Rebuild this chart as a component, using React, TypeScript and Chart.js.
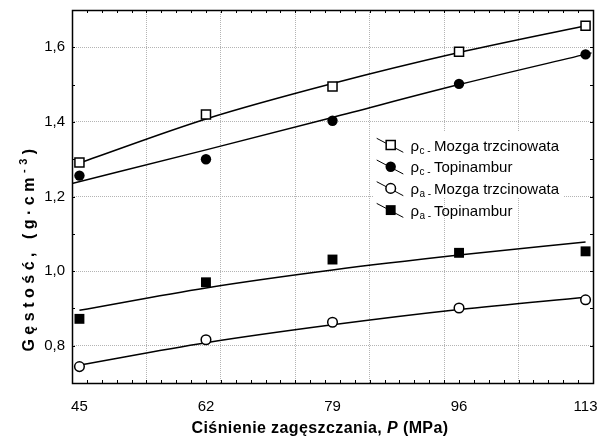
import { useEffect, useRef } from 'react';
import { Chart, registerables } from 'chart.js';

Chart.register(...registerables);

// ---- data ----
const pressure = [45, 62, 79, 96, 113];
const rhoCMozga = [1.291, 1.42, 1.495, 1.588, 1.658];
const rhoCTopinambur = [1.256, 1.3, 1.403, 1.502, 1.581];
const rhoAMozga = [0.744, 0.816, 0.863, 0.901, 0.923];
const rhoATopinambur = [0.872, 0.97, 1.031, 1.049, 1.053];

// fitted curves
const fitCMozgaX = [45, 62, 79, 96, 113];
const fitCMozgaY = [1.29, 1.408, 1.503, 1.586, 1.658];
const fitCTopinamburX = [44, 62, 79, 96, 113.8];
const fitCTopinamburY = [1.235, 1.325, 1.412, 1.5, 1.585];
const fitAMozgaX = [45, 62, 79, 96, 113];
const fitAMozgaY = [0.748, 0.808, 0.856, 0.897, 0.93];
const fitATopinamburX = [45, 62, 79, 96, 113];
const fitATopinamburY = [0.895, 0.955, 1.003, 1.043, 1.078];

// axes
const xMin = 44;
const xMax = 114;
const yMin = 0.7;
const yMax = 1.7;
const xTickLabels = [45, 62, 79, 96, 113];
const xGridValues = [54, 64, 74, 84, 94, 104];
const yTickValues = [0.8, 1.0, 1.2, 1.4, 1.6];
const xMinorTicks = [46, 48, 50, 52, 54, 56, 58, 60, 62, 64, 66, 68, 70, 72, 74, 76, 78, 80, 82, 84, 86, 88, 90, 92, 94, 96, 98, 100, 102, 104, 106, 108, 110, 112];
const yMinorTicks = [0.8, 0.9, 1.0, 1.1, 1.2, 1.3, 1.4, 1.5, 1.6];

// legend text
const legendSymbol = 'ρ';
const legendSubs = ['c', 'c', 'a', 'a'];
const legendNames = ['Mozga trzcinowata', 'Topinambur', 'Mozga trzcinowata', 'Topinambur'];

const xTitleParts = ['Ciśnienie zagęszczania, ', 'P', ' (MPa)'];
const yTitleMain = 'Gęstość, (g·cm';
const yTitleSup = '-3';
const yTitleEnd = ')';

const FONT = '"Liberation Sans", Arial, sans-serif';

const toPts = (xs: number[], ys: number[]) => xs.map((x, i) => ({ x, y: ys[i] }));

function drawMarker(ctx: CanvasRenderingContext2D, ds: any, x: number, y: number) {
  ctx.save();
  ctx.fillStyle = ds.pointBackgroundColor;
  ctx.strokeStyle = ds.pointBorderColor;
  ctx.lineWidth = ds.pointBorderWidth;
  ctx.beginPath();
  if (ds.pointStyle === 'rect') {
    const h = Math.SQRT1_2 * ds.pointRadius;
    ctx.rect(x - h, y - h, 2 * h, 2 * h);
  } else {
    ctx.arc(x, y, ds.pointRadius, 0, Math.PI * 2);
  }
  ctx.fill();
  if (ds.pointBorderWidth > 0) ctx.stroke();
  ctx.restore();
}

const decorPlugin = {
  id: 'decor',
  afterDatasetsDraw(chart: any) {
    const ctx: CanvasRenderingContext2D = chart.ctx;
    ctx.save();
    const symX = 390.7;
    const top = 145;
    const gap = 21.7;
    ctx.fillStyle = '#fff';
    ctx.fillRect(374, 132, 190, 66);
    for (let i = 0; i < 4; i++) {
      const ds = chart.data.datasets[i];
      const cy = top + i * gap;
      ctx.strokeStyle = '#000';
      ctx.lineWidth = 1;
      ctx.beginPath();
      ctx.moveTo(symX - 14, cy - 6.7);
      ctx.lineTo(symX + 12.6, cy + 7.3);
      ctx.stroke();
      drawMarker(ctx, ds, symX, cy);
      ctx.fillStyle = '#000';
      ctx.textAlign = 'left';
      ctx.textBaseline = 'alphabetic';
      const base = cy + 5.7;
      let tx = 410.5;
      ctx.font = `15px ${FONT}`;
      ctx.fillText(legendSymbol, tx, base);
      tx += ctx.measureText(legendSymbol).width;
      ctx.font = `10px ${FONT}`;
      ctx.fillText(legendSubs[i] + ' -', tx + 0.5, base + 3);
      ctx.font = `15px ${FONT}`;
      ctx.fillText(legendNames[i], 434, base);
    }
    ctx.restore();
  },
  afterDraw(chart: any) {
    const ctx: CanvasRenderingContext2D = chart.ctx;
    const { left, right, top, bottom } = chart.chartArea;
    const xs = chart.scales.x;
    const ys = chart.scales.y;
    ctx.save();
    ctx.strokeStyle = '#000';
    ctx.lineWidth = 1;
    ctx.beginPath();
    xMinorTicks.forEach((v) => {
      const px = Math.round(xs.getPixelForValue(v)) + 0.5;
      ctx.moveTo(px, bottom);
      ctx.lineTo(px, bottom - 3);
      ctx.moveTo(px, top);
      ctx.lineTo(px, top + 3);
    });
    yMinorTicks.forEach((v) => {
      const py = Math.round(ys.getPixelForValue(v)) + 0.5;
      ctx.moveTo(left, py);
      ctx.lineTo(left + 3, py);
      ctx.moveTo(right, py);
      ctx.lineTo(right - 3, py);
    });
    ctx.stroke();
    ctx.lineWidth = 1.5;
    ctx.strokeRect(Math.round(left) + 0.5, Math.round(top) + 0.5, Math.round(right - left), Math.round(bottom - top));

    // x title
    ctx.fillStyle = '#000';
    ctx.textBaseline = 'alphabetic';
    ctx.textAlign = 'left';
    (ctx as any).letterSpacing = '0.4px';
    const fonts = [`bold 16px ${FONT}`, `italic bold 16px ${FONT}`, `bold 16px ${FONT}`];
    let total = 0;
    const widths = xTitleParts.map((p, i) => {
      ctx.font = fonts[i];
      const w = ctx.measureText(p).width;
      total += w;
      return w;
    });
    let tx = 320 - total / 2;
    xTitleParts.forEach((p, i) => {
      ctx.font = fonts[i];
      ctx.fillText(p, tx, 433);
      tx += widths[i];
    });

    // y title (rotated)
    (ctx as any).letterSpacing = '4.5px';
    ctx.translate(34, 248);
    ctx.rotate(-Math.PI / 2);
    ctx.font = `bold 16px ${FONT}`;
    const w1 = ctx.measureText(yTitleMain).width;
    const w3 = ctx.measureText(yTitleEnd).width;
    ctx.font = `bold 11px ${FONT}`;
    const w2 = ctx.measureText(yTitleSup).width;
    let yx = -(w1 + w2 + w3) / 2;
    ctx.font = `bold 16px ${FONT}`;
    ctx.fillText(yTitleMain, yx, 0);
    yx += w1;
    ctx.font = `bold 11px ${FONT}`;
    ctx.fillText(yTitleSup, yx, -7);
    yx += w2;
    ctx.font = `bold 16px ${FONT}`;
    ctx.fillText(yTitleEnd, yx, 0);
    ctx.restore();
  },
};

export default function App() {
  const ref = useRef<HTMLCanvasElement>(null);

  useEffect(() => {
    if (!ref.current) return;
    const pointDs = (label: string, data: number[], style: string, radius: number, bg: string, bw: number) => ({
      type: 'scatter' as const,
      label,
      data: toPts(pressure, data),
      showLine: false,
      pointStyle: style,
      pointRadius: radius,
      pointBackgroundColor: bg,
      pointBorderColor: '#000',
      pointBorderWidth: bw,
      order: 1,
    });
    const lineDs = (xs: number[], ys: number[]) => ({
      type: 'scatter' as const,
      label: 'fit',
      data: toPts(xs, ys),
      showLine: true,
      borderColor: '#000',
      borderWidth: 1.5,
      pointRadius: 0,
      cubicInterpolationMode: 'monotone' as const,
      order: 2,
    });
    const noPad = (s: any) => {
      s.paddingTop = 0;
      s.paddingBottom = 0;
      s.paddingLeft = 0;
      s.paddingRight = 0;
    };
    const chart = new Chart(ref.current, {
      type: 'scatter',
      data: {
        datasets: [
          pointDs(`${legendSymbol}${legendSubs[0]} - ${legendNames[0]}`, rhoCMozga, 'rect', 6.4, '#fff', 1.5),
          pointDs(`${legendSymbol}${legendSubs[1]} - ${legendNames[1]}`, rhoCTopinambur, 'circle', 5.2, '#000', 0),
          pointDs(`${legendSymbol}${legendSubs[2]} - ${legendNames[2]}`, rhoAMozga, 'circle', 4.8, '#fff', 1.5),
          pointDs(`${legendSymbol}${legendSubs[3]} - ${legendNames[3]}`, rhoATopinambur, 'rect', 7, '#000', 0),
          lineDs(fitCMozgaX, fitCMozgaY),
          lineDs(fitCTopinamburX, fitCTopinamburY),
          lineDs(fitAMozgaX, fitAMozgaY),
          lineDs(fitATopinamburX, fitATopinamburY),
        ] as any,
      },
      options: {
        animation: false,
        responsive: true,
        maintainAspectRatio: false,
        layout: { padding: { left: 0, right: 12, top: 10, bottom: 0 } },
        plugins: { legend: { display: false }, tooltip: { enabled: false }, title: { display: false } },
        scales: {
          x: {
            type: 'linear',
            position: 'bottom',
            min: xMin,
            max: xMax,
            grid: { display: false, drawTicks: false },
            border: { display: false },
            ticks: {
              color: '#000',
              font: { family: FONT, size: 15 },
              padding: 15,
              maxRotation: 0,
              autoSkip: false,
              callback: (v: any) => String(v),
            },
            afterBuildTicks: (s: any) => {
              s.ticks = xTickLabels.map((v) => ({ value: v }));
            },
            afterFit: (s: any) => {
              s.height = 56;
              noPad(s);
            },
          },
          xg: {
            type: 'linear',
            axis: 'x',
            position: 'bottom',
            min: xMin,
            max: xMax,
            ticks: { display: false },
            grid: { color: '#b4b4b4', lineWidth: 1, drawTicks: false },
            border: { display: false, dash: [1, 1] },
            afterBuildTicks: (s: any) => {
              s.ticks = xGridValues.map((v) => ({ value: v }));
            },
            afterFit: (s: any) => {
              s.height = 0;
              noPad(s);
            },
          },
          y: {
            type: 'linear',
            min: yMin,
            max: yMax,
            grid: { color: '#b4b4b4', lineWidth: 1, drawTicks: false },
            border: { display: false, dash: [1, 1] },
            ticks: {
              color: '#000',
              font: { family: FONT, size: 15 },
              padding: 7,
              callback: (v: any) => Number(v).toFixed(1).replace('.', ','),
            },
            afterBuildTicks: (s: any) => {
              s.ticks = yTickValues.map((v) => ({ value: v }));
            },
            afterFit: (s: any) => {
              s.width = 72;
              noPad(s);
            },
          },
        },
      } as any,
      plugins: [decorPlugin],
    });
    return () => chart.destroy();
  }, []);

  return (
    <div style={{ position: 'fixed', left: 0, top: 0, width: 605, height: 439, background: '#fff' }}>
      <canvas ref={ref} />
    </div>
  );
}
